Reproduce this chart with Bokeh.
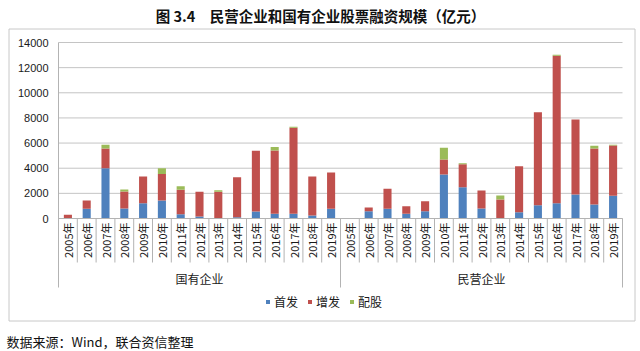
import numpy as np
from bokeh.plotting import figure
from bokeh.models import ColumnDataSource, Range1d, Legend, LegendItem
from bokeh.core.properties import value
from bokeh.embed import file_html
from bokeh.resources import INLINE

# ---------------- data ----------------
years = ["2005年", "2006年", "2007年", "2008年", "2009年", "2010年", "2011年", "2012年",
         "2013年", "2014年", "2015年", "2016年", "2017年", "2018年", "2019年"]
groups = ["国有企业", "民营企业"]
series_names = ["首发", "增发", "配股"]

ipo_soe = [0, 770, 4000, 800, 1220, 1430, 345, 160, 30, 100, 560, 370, 370, 240, 770]
seo_soe = [290, 660, 1570, 1350, 2120, 2100, 1935, 1960, 2090, 3190, 4820, 5040, 6840, 3100, 2890]
rights_soe = [0, 0, 290, 160, 0, 470, 290, 0, 130, 0, 0, 270, 80, 0, 0]

ipo_pri = [0, 580, 770, 370, 580, 3500, 2490, 800, 0, 500, 1060, 1220, 1910, 1110, 1800]
seo_pri = [0, 300, 1590, 610, 800, 1200, 1830, 1430, 1510, 3660, 7400, 11720, 5970, 4460, 4010]
rights_pri = [0, 0, 0, 0, 0, 920, 80, 0, 320, 0, 0, 80, 0, 210, 50]

y_ticks = [0, 2000, 4000, 6000, 8000, 10000, 12000, 14000]
y_tick_labels = [str(t) for t in y_ticks]

title_text = "图 3.4\u3000民营企业和国有企业股票融资规模（亿元）"
source_text = "数据来源：Wind，联合资信整理"

# ---------------- layout (pixel geometry of the page) ----------------
W, H = 640, 351
plot_left_px, plot_right_px = 58, 622
plot_top_px, zero_px = 42, 218

cats = years + years
n = len(cats)
per_group = len(years)
y_max = y_ticks[-1]

cat_w = (plot_right_px - plot_left_px) / n        # px per category
ppu = (zero_px - plot_top_px) / y_max              # px per value unit


def px2x(px):
    return (px - plot_left_px) / cat_w


def py2y(py):
    return (zero_px - py) / ppu


x_center = [i + 0.5 for i in range(n)]

src = ColumnDataSource(dict(
    x=x_center,
    ipo=ipo_soe + ipo_pri,
    seo=seo_soe + seo_pri,
    rights=rights_soe + rights_pri,
))

colors = ["#4F81BD", "#C0504D", "#9BBB59"]
cjk = "Noto Sans CJK SC"
grey = "#b3b3b3"
txt = "#1a1a1a"

p = figure(width=W, height=H, output_backend="svg", toolbar_location=None,
           x_range=Range1d(px2x(0), px2x(W)), y_range=Range1d(py2y(H), py2y(0)),
           x_axis_location=None, y_axis_location=None, title_location=None,
           min_border=0, min_border_left=0, min_border_right=0,
           min_border_top=0, min_border_bottom=0)
p.outline_line_color = None
p.background_fill_color = "white"
p.border_fill_color = "white"
p.grid.visible = False

# outer chart box
p.quad(left=[px2x(8.5)], right=[px2x(634.5)], top=[py2y(28.5)], bottom=[py2y(320.5)],
       fill_color=None, line_color="#c8c8c8", line_width=1)

# gridlines
p.segment(x0=[0] * len(y_ticks), x1=[n] * len(y_ticks), y0=y_ticks, y1=y_ticks,
          line_color="#c4c4c4", line_width=1)

# y tick labels
p.text(x=[px2x(48)] * len(y_ticks), y=y_ticks, text=y_tick_labels,
       text_align="right", text_baseline="middle",
       text_font=value("Liberation Sans"), text_font_size="11px", text_color=txt)

# bars
rs = p.vbar_stack(["ipo", "seo", "rights"], x="x", width=0.43, color=colors,
                  line_color=None, source=src)

# axis lines and separators
y_axis_bottom = py2y(287)
p.segment(x0=[0, 0], x1=[0, n], y0=[y_axis_bottom, 0], y1=[y_max, 0],
          line_color=grey, line_width=1)
sep_x = [i for i in range(1, n) if i % per_group != 0]
cat_sep_bottom = py2y(262)
p.segment(x0=sep_x, x1=sep_x, y0=[0] * len(sep_x), y1=[cat_sep_bottom] * len(sep_x),
          line_color=grey, line_width=1)
grp_x = [i * per_group for i in range(1, len(groups) + 1)]
p.segment(x0=grp_x, x1=grp_x, y0=[0] * len(grp_x), y1=[y_axis_bottom] * len(grp_x),
          line_color=grey, line_width=1)

# category labels
p.text(x=x_center, y=[py2y(222)] * n, text=cats, angle=np.pi / 2,
       text_align="right", text_baseline="middle",
       text_font=value(cjk), text_font_size="11px", text_color=txt)

# group labels
grp_center = [per_group * (g + 0.5) for g in range(len(groups))]
p.text(x=grp_center, y=[py2y(278)] * len(groups), text=groups,
       text_align="center", text_baseline="middle",
       text_font=value(cjk), text_font_size="12px", text_color=txt)

# title
p.text(x=[px2x(320)], y=[py2y(15)], text=[title_text],
       text_align="center", text_baseline="middle",
       text_font=value(cjk), text_font_size="14.5px", text_font_style="bold",
       text_color="#111111")

# source note
p.text(x=[px2x(6)], y=[py2y(341)], text=[source_text],
       text_align="left", text_baseline="middle",
       text_font=value(cjk), text_font_size="13px", text_color="#111111")

# legend
legend = Legend(items=[LegendItem(label=nm, renderers=[r]) for nm, r in zip(series_names, rs)],
                orientation="horizontal", location=(265, 41),
                glyph_width=5, glyph_height=5, label_standoff=4, spacing=9,
                label_text_font=cjk, label_text_font_size="12px", label_text_color=txt,
                label_height=14, border_line_color=None, background_fill_alpha=0,
                padding=0, margin=0)
p.add_layout(legend)

open("out.html", "w").write(file_html(p, INLINE))
